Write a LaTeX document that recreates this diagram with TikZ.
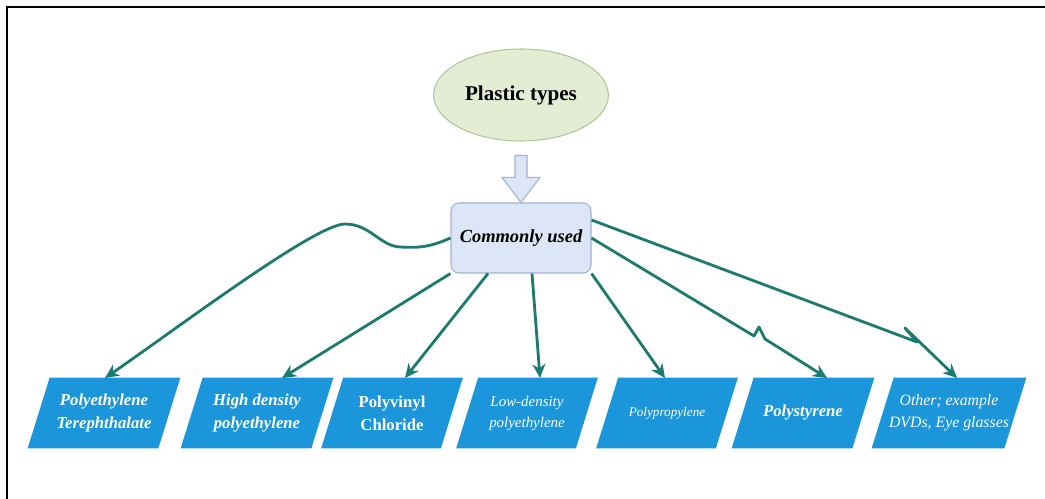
\documentclass[tikz,border=0pt]{standalone}
\usepackage{fontspec}
\setmainfont{Liberation Serif}
\usetikzlibrary{arrows.meta,shapes.geometric,calc}
\pgfdeclarelayer{background}
\pgfsetlayers{background,main}

\definecolor{typefill}{RGB}{226,237,212}
\definecolor{typeline}{RGB}{176,198,150}
\definecolor{usedfill}{RGB}{220,230,247}
\definecolor{usedline}{RGB}{160,178,212}
\definecolor{kindfill}{RGB}{28,150,218}
\definecolor{linkteal}{RGB}{28,122,112}

\begin{document}
\begin{tikzpicture}[x=0.2mm,y=-0.2mm,
typenode/.style={ellipse,draw=typeline,fill=typefill,line width=0.6pt,minimum width=28.4mm,minimum height=18.4mm,font=\fontsize{12}{14}\selectfont\bfseries},
usedbox/.style={draw=usedline,fill=usedfill,line width=0.6pt,rounded corners=4.5pt,minimum width=28mm,minimum height=14mm,font=\fontsize{10.5}{12}\selectfont\bfseries\itshape},
kindbox/.style={text=white,align=center,minimum height=14mm,inner sep=1pt},
link/.style={-{Stealth[length=2.8mm,width=2.6mm]},line width=1.6pt,draw=linkteal,line join=round}]
\useasboundingbox (0,0) rectangle (1045,499);
\draw[line width=1.1pt] (7,499) -- (7,7) -- (1045,7);

\node[typenode] (types) at (521,95) {Plastic types};
\node[usedbox] (used) at (521,238) {Commonly used};
\draw[draw=usedline,fill=usedfill,line width=0.6pt] ($(types.south)+(-6,14)$) -- ($(types.south)+(6,14)$) -- ($(used.north)+(6,-25)$) -- ($(used.north)+(19,-25)$) -- (used.north) -- ($(used.north)+(-19,-25)$) -- ($(used.north)+(-6,-25)$) -- cycle;

\node[kindbox,minimum width=26mm,font=\fontsize{9.5}{13}\selectfont\bfseries\itshape] (pet) at (104,413) {Polyethylene\\Terephthalate};
\node[kindbox,minimum width=26mm,font=\fontsize{9.5}{13}\selectfont\bfseries\itshape] (hdpe) at (257,413) {High density\\polyethylene};
\node[kindbox,minimum width=23.8mm,font=\fontsize{9.5}{13}\selectfont\bfseries] (pvc) at (392,413) {Polyvinyl\\Chloride};
\node[kindbox,minimum width=23.8mm,font=\fontsize{8.5}{12}\selectfont\itshape] (ldpe) at (527,413) {Low-density\\polyethylene};
\node[kindbox,minimum width=23.8mm,font=\fontsize{7.5}{9}\selectfont\itshape] (pp) at (667,413) {Polypropylene};
\node[kindbox,minimum width=24mm,font=\fontsize{9.5}{11}\selectfont\bfseries\itshape] (ps) at (803,413) {Polystyrene};
\node[kindbox,minimum width=26.4mm,font=\fontsize{9}{12.5}\selectfont\itshape] (other) at (949,413) {Other; example\\DVDs, Eye glasses};

% slanted boxes behind the labels
\begin{pgfonlayer}{background}
\foreach \k in {pet,hdpe,pvc,ldpe,pp,ps,other}
  \fill[kindfill] ($(\k.north west)+(11,0)$) -- ($(\k.north east)+(11,0)$) -- ($(\k.south east)+(-11,0)$) -- ($(\k.south west)+(-11,0)$) -- cycle;
\end{pgfonlayer}

% connectors from the middle box
\draw[link] (used.west) .. controls (430,247) and (420,248) .. (400,247) .. controls (380,246) and (370,224) .. (345,224) .. controls (315,224) and (175,330) .. ($(pet.center)+(1,-35)$);
\draw[link] (used.south west) -- ($(hdpe.center)+(25,-35)$);
\draw[link] ($(used.south)+(-33,0)$) -- ($(pvc.center)+(13,-35)$);
\draw[link] ($(used.south)+(11,0)$) -- ($(ldpe.center)+(13,-35)$);
\draw[link] (used.south east) -- ($(pp.center)+(-2,-35)$);
\draw[link] (used.east) -- (754,336) -- (759,327) -- (765,339) -- ($(ps.center)+(24,-35)$);
\draw[link] ($(used.east)+(0,-18)$) -- (917,342) -- (905,328) -- ($(other.center)+(8,-35)$);
\end{tikzpicture}
\end{document}
